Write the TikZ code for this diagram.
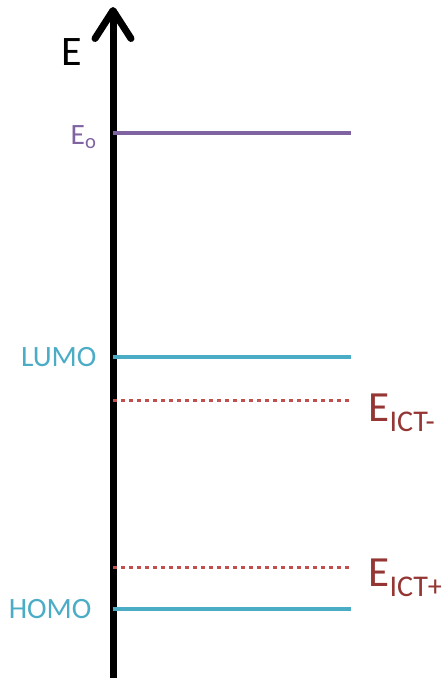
\documentclass[tikz,border=0pt]{standalone}
\usepackage{fontspec}
\setmainfont{Carlito}
\usetikzlibrary{arrows.meta, positioning}
\definecolor{levelpurple}{HTML}{8064A2}
\definecolor{levelblue}{HTML}{4BACC6}
\definecolor{ictred}{HTML}{C0504D}
\definecolor{ictdark}{HTML}{943634}

\begin{document}
\begin{tikzpicture}[
    x=1pt, y=-1pt,
    axisline/.style={line width=7pt, draw=black, -{Straight Barb[length=28pt, width=36pt, line cap=round, line join=round]}},
    level/.style={line width=3.5pt},
    ictline/.style={line width=3pt, draw=ictred, dash pattern=on 3.5pt off 4.5pt},
    levellabel/.style={anchor=east, font=\fontsize{29.5}{34}\selectfont},
    ictlabel/.style={anchor=base west, text=ictdark, font=\fontsize{43}{48}\selectfont}
]
\useasboundingbox (0,0) rectangle (441,678);
% energy axis
\coordinate (axisbottom) at (113,678);
\coordinate (axistop) at (113,7);
\draw[axisline] (axisbottom) -- (axistop);
\node[font=\fontsize{42}{46}\selectfont] (elabel) at (72,52) {E};
% levels
\coordinate (eostart) at (113,133);
\coordinate (eoend) at (351,133);
\coordinate (lumostart) at (113,357);
\coordinate (lumoend) at (351,357);
\coordinate (ictmstart) at (113,400);
\coordinate (ictmend) at (351,400);
\coordinate (ictpstart) at (113,567);
\coordinate (ictpend) at (351,567);
\coordinate (homostart) at (113,609);
\coordinate (homoend) at (351,609);
\draw[level, draw=levelpurple] (eostart) -- (eoend);
\draw[level, draw=levelblue] (lumostart) -- (lumoend);
\draw[ictline] (ictmstart) -- (ictmend);
\draw[ictline] (ictpstart) -- (ictpend);
\draw[level, draw=levelblue] (homostart) -- (homoend);
% labels
\node[levellabel, text=levelpurple] (eo) at (100,137) {E\textsubscript{o}};
\node[levellabel, text=levelblue] (lumo) at (100,357) {LUMO};
\node[levellabel, text=levelblue] (homo) at (95,609) {HOMO};
\node[ictlabel] (ictminus) at (365,421) {E\textsubscript{ICT-}};
\node[ictlabel] (ictplus) at (365,586) {E\textsubscript{ICT+}};
\end{tikzpicture}
\end{document}
